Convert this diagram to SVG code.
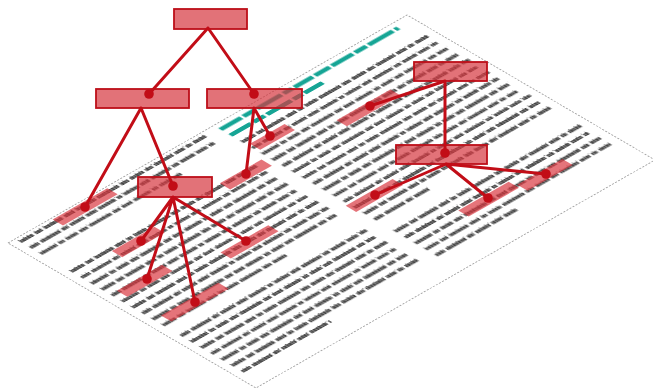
<svg xmlns="http://www.w3.org/2000/svg" width="653" height="392" viewBox="0 0 653 392">
<style>
.page{fill:#fff;stroke:#9a9a9a;stroke-width:0.9;stroke-dasharray:2 1.5}
.tx{fill:none;stroke:#1f1f1f;stroke-width:3.9;stroke-opacity:0.82}
.t1{stroke-dasharray:15 2.4 8 2.4 21 2.4 11 2.4 6 2.4 14 2.4 24 2.4 9 2.4}
.t2{stroke-dasharray:10 2.4 22 2.4 7 2.4 16 2.4 12 2.4 19 2.4 5 2.4 17 2.4}
.t3{stroke-dasharray:19 2.4 6 2.4 13 2.4 9 2.4 25 2.4 8 2.4 11 2.4}
.lt{fill:none;stroke:#fff;stroke-width:4.4;stroke-dasharray:0.6 1.9 0.6 2.6;stroke-opacity:0.5}
.asc{fill:none;stroke:#1f1f1f;stroke-width:1.1;stroke-opacity:0.7;stroke-dasharray:0.9 5 0.9 3.2 0.9 7.5}
.ttl{fill:none;stroke:#14a595;stroke-width:5;stroke-dasharray:24 2.6 13 2.6 28 2.6 10 2.6 21 2.6 17 2.6}
.hl{fill:#d8323b;fill-opacity:0.68}
.box{fill:#d6363e;fill-opacity:0.7;stroke:#bd0f19;stroke-width:1.8}
.cn{stroke:#c20d17;stroke-width:3;stroke-linecap:round;fill:none}
.dot{fill:#c20d17}
</style>
<defs>
<filter id="blur" x="-5%" y="-5%" width="110%" height="110%"><feGaussianBlur stdDeviation="0.55"/></filter>
<path id="L1" d="M8 6H222M8 65H222M8 100.4H222M8 135.8H222M8 171.2H150M8 215.6H222M8 251H222M237 33H452M237 68.4H450M237 103.8H452M237 139.2H448M237 174.6H452M237 210H452M237 245.4H450"/>
<path id="L2" d="M8 17.8H220M8 76.8H222M8 112.2H220M8 147.6H222M8 192H222M8 227.4H220M8 262.8H110M237 44.8H450M237 80.2H452M237 115.6H450M237 151H452M237 186.4H300M237 221.8H448M237 257.2H330"/>
<path id="L3" d="M8 29.6H170M8 88.6H221M8 124H222M8 159.4H219M8 203.8H220M8 239.2H222M237 56.6H452M237 92H449M237 127.4H452M237 162.8H450M237 233.6H452"/>
</defs>
<g id="page" transform="matrix(0.8674 -0.4957 0.8641 0.5052 8 243)">
<rect class="page" x="0" y="0" width="460" height="287"/>
<g filter="url(#blur)">
<path class="ttl" d="M237 8H442M237 19.5H345"/>
<use href="#L1" class="tx t1"/>
<use href="#L2" class="tx t2"/>
<use href="#L3" class="tx t3"/>
<use href="#L1" class="lt"/>
<use href="#L2" class="lt"/>
<use href="#L3" class="lt"/>
<g transform="translate(0 -2.6)">
<use href="#L1" class="asc"/>
<use href="#L2" class="asc" style="stroke-dashoffset:3"/>
<use href="#L3" class="asc" style="stroke-dashoffset:6"/>
</g>
</g>
</g>
<g id="highlights" transform="matrix(0.8674 -0.4957 0.8641 0.5052 8 243)">
<rect id="h1" class="hl" x="49.5" y="2" width="63" height="12"/>
<rect id="h2" class="hl" x="52.5" y="67.5" width="49" height="12"/>
<rect id="h3" class="hl" x="16" y="110" width="52" height="12"/>
<rect id="h4" class="hl" x="17" y="160" width="66" height="12"/>
<rect id="h5" class="hl" x="114.5" y="131" width="55" height="12"/>
<rect id="h6" class="hl" x="240" y="39" width="40" height="12"/>
<rect id="h7" class="hl" x="183" y="61.5" width="48" height="12"/>
<rect id="h8" class="hl" x="314" y="65" width="62" height="12"/>
<rect id="h9" class="hl" x="234" y="156" width="54" height="12"/>
<rect id="h10" class="hl" x="295" y="225" width="58" height="12"/>
<rect id="h11" class="hl" x="355" y="233" width="52" height="12"/>
</g>
<g id="r0"><rect class="box" x="174" y="9" width="73" height="20"/></g>
<g id="b1"><rect class="box" x="96" y="89" width="93" height="19"/></g>
<g id="b2"><rect class="box" x="207" y="89" width="95" height="19"/></g>
<g id="b3"><rect class="box" x="138" y="177" width="74" height="20"/></g>
<g id="r1"><rect class="box" x="414" y="62" width="73" height="19"/></g>
<g id="r2"><rect class="box" x="396" y="145" width="91" height="19"/></g>
<g id="connectors">
<path class="cn" d="M208 28L149 94M208 28L254 94M141 108L85 207M141 108L173 186M173 197L141 241M173 197L147 279M173 197L195 302M173 197L246 241M254 108L270 136M254 108L246 174M445 81L370 106M445 81L445 153M446 164L375 195M446 164L488 198M446 164L546 174"/>
<circle class="dot" cx="149" cy="94" r="4.8"/>
<circle class="dot" cx="254" cy="94" r="4.8"/>
<circle class="dot" cx="85" cy="207" r="4.8"/>
<circle class="dot" cx="173" cy="186" r="4.8"/>
<circle class="dot" cx="141" cy="241" r="4.8"/>
<circle class="dot" cx="147" cy="279" r="4.8"/>
<circle class="dot" cx="195" cy="302" r="4.8"/>
<circle class="dot" cx="246" cy="241" r="4.8"/>
<circle class="dot" cx="270" cy="136" r="4.8"/>
<circle class="dot" cx="246" cy="174" r="4.8"/>
<circle class="dot" cx="370" cy="106" r="4.8"/>
<circle class="dot" cx="445" cy="153" r="4.8"/>
<circle class="dot" cx="375" cy="195" r="4.8"/>
<circle class="dot" cx="488" cy="198" r="4.8"/>
<circle class="dot" cx="546" cy="174" r="4.8"/>
</g>
</svg>
